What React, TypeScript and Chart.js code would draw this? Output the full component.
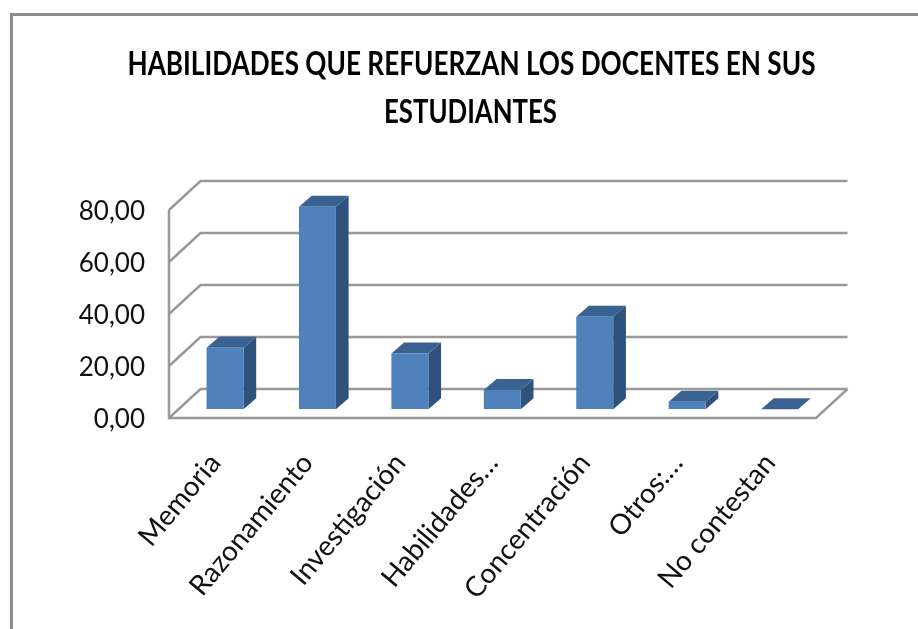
import React, { useEffect, useRef } from "react";
import { Chart, registerables } from "chart.js";

Chart.register(...registerables);

const categories = ["Memoria", "Razonamiento", "Investigación", "Habilidades…", "Concentración", "Otros:…", "No contestan"];
const values = [23.7, 77.9, 21.5, 7.4, 35.6, 2.9, 0];
const titleLines = ["HABILIDADES QUE REFUERZAN LOS DOCENTES EN SUS", "ESTUDIANTES"];
const yTicks = [0, 20, 40, 60, 80];

const GRID = "#999999";
const TEXT = "#111111";
const FONT = "Lato, sans-serif";
const DEPTH_X = 31.5;
const DEPTH_Y = 29;
const BAR_SHIFT_X = 9.8;
const BAR_SHIFT_Y = 8.7;
const BAR_DEPTH_X = 12.7;
const BAR_DEPTH_Y = 11;

const walls = {
  id: "walls",
  beforeDatasetsDraw(chart: any) {
    const { ctx, chartArea: a, scales } = chart;
    const y = scales.y;
    ctx.save();
    ctx.strokeStyle = GRID;
    ctx.lineWidth = 2.5;
    yTicks.forEach((t) => {
      const py = y.getPixelForValue(t);
      ctx.beginPath();
      ctx.moveTo(a.left, py);
      ctx.lineTo(a.left + DEPTH_X, py - DEPTH_Y);
      ctx.lineTo(a.right + DEPTH_X, py - DEPTH_Y);
      ctx.stroke();
    });
    ctx.beginPath();
    ctx.moveTo(a.left, a.top);
    ctx.lineTo(a.left, a.bottom);
    ctx.lineTo(a.right, a.bottom);
    ctx.lineTo(a.right + DEPTH_X, a.bottom - DEPTH_Y);
    ctx.stroke();
    ctx.restore();
  },
};

const extrude = {
  id: "extrude",
  beforeDatasetDraw(chart: any) {
    const { ctx } = chart;
    ctx.save();
    ctx.translate(BAR_SHIFT_X, -BAR_SHIFT_Y);
    chart.getDatasetMeta(0).data.forEach((bar: any) => {
      const l = bar.x - bar.width / 2;
      const r = bar.x + bar.width / 2;
      const t = bar.y;
      const b = bar.base;
      ctx.fillStyle = "#2F527C";
      ctx.beginPath();
      ctx.moveTo(r, t);
      ctx.lineTo(r + BAR_DEPTH_X, t - BAR_DEPTH_Y);
      ctx.lineTo(r + BAR_DEPTH_X, b - BAR_DEPTH_Y);
      ctx.lineTo(r, b);
      ctx.closePath();
      ctx.fill();
      ctx.fillStyle = "#3A6291";
      ctx.beginPath();
      ctx.moveTo(l, t);
      ctx.lineTo(l + BAR_DEPTH_X, t - BAR_DEPTH_Y);
      ctx.lineTo(r + BAR_DEPTH_X, t - BAR_DEPTH_Y);
      ctx.lineTo(r, t);
      ctx.closePath();
      ctx.fill();
    });
  },
  afterDatasetDraw(chart: any) {
    chart.ctx.restore();
  },
};

const titleText = {
  id: "titleText",
  afterDraw(chart: any) {
    const { ctx } = chart;
    ctx.save();
    ctx.fillStyle = "#000000";
    ctx.font = `bold 33px ${FONT}`;
    ctx.textAlign = "center";
    ctx.textBaseline = "middle";
    ctx.fillText(titleLines[0], 471.5, 64, 688);
    ctx.fillText(titleLines[1], 470.5, 112, 173);
    ctx.restore();
  },
};

export default function App() {
  const ref = useRef<HTMLCanvasElement>(null);
  useEffect(() => {
    const chart = new Chart(ref.current as HTMLCanvasElement, {
      type: "bar",
      data: {
        labels: categories,
        datasets: [
          {
            data: values,
            backgroundColor: "#4F81BD",
            borderWidth: 0,
            barPercentage: 0.4,
            categoryPercentage: 1,
          },
        ],
      },
      options: {
        responsive: false,
        animation: false,
        layout: { padding: { left: 0, right: 102, top: 210, bottom: 0 } },
        plugins: {
          legend: { display: false },
          tooltip: { enabled: false },
          title: { display: false },
        },
        scales: {
          x: {
            grid: { display: false },
            border: { display: false },
            ticks: {
              color: TEXT,
              font: { family: FONT, size: 28 },
              maxRotation: 50,
              minRotation: 50,
              autoSkip: false,
              padding: 21,
            },
            afterFit(s: any) {
              s.height = 211;
              s.paddingLeft = 0;
              s.paddingRight = 0;
            },
          },
          y: {
            min: 0,
            max: 80,
            grid: { display: false },
            border: { display: false },
            ticks: {
              stepSize: 20,
              color: TEXT,
              font: { family: FONT, size: 26 },
              padding: 16,
              labelOffset: 2,
              callback: (v: any) => Number(v).toFixed(2).replace(".", ","),
            },
            afterFit(s: any) {
              s.width = 169;
            },
          },
        },
      },
      plugins: [walls, extrude, titleText],
    } as any);
    return () => chart.destroy();
  }, []);
  return (
    <div style={{ position: "fixed", left: 0, top: 0, width: 918, height: 629, background: "#fff", overflow: "hidden" }}>
      <div
        style={{
          position: "absolute",
          left: 10,
          top: 13,
          width: 908,
          height: 616,
          borderLeft: "3px solid #8C8C8C",
          borderTop: "3px solid #8C8C8C",
        }}
      />
      <canvas ref={ref} width={918} height={629} style={{ position: "absolute", left: 0, top: 0 }} />
    </div>
  );
}
